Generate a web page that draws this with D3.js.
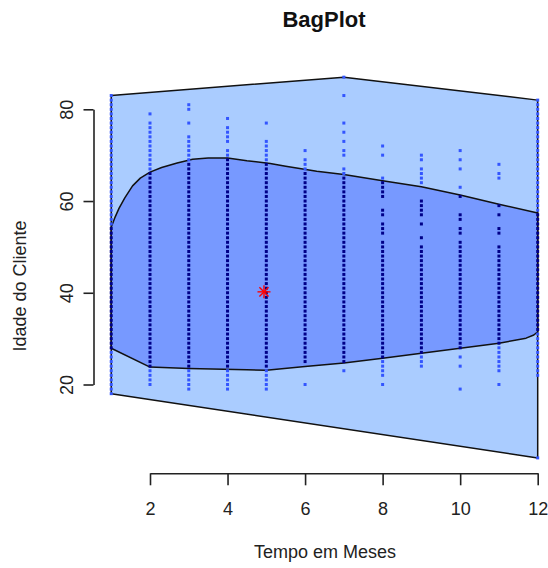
<!DOCTYPE html>
<html>
<head>
<meta charset="utf-8">
<script src="https://cdn.jsdelivr.net/npm/d3@7/dist/d3.min.js"></script>
<style>
  html, body { margin: 0; padding: 0; background: #fff; }
  svg { display: block; font-family: "Liberation Sans", Arial, Helvetica, sans-serif; }
</style>
</head>
<body>
<svg id="chart" width="548" height="568"></svg>
<script>
// Idade dos clientes observada em cada mês
const meses = [1, 2, 3, 4, 5, 6, 7, 8, 9, 10, 11, 12];
const idadesMes1 = [18,19,20,21,22,23,24,25,26,27,28,29,30,31,32,33,34,35,36,37,38,39,40,41,42,43,44,45,46,47,48,49,50,51,52,53,54,55,56,57,58,59,60,61,62,63,64,65,66,67,68,69,70,71,72,73,74,75,76,77,78,79,80,81,82,83];
const idadesMes2 = [20,21,22,23,24,25,26,27,28,29,30,31,32,33,34,35,36,37,38,39,40,41,42,43,44,45,46,47,48,49,50,51,52,53,54,55,56,57,58,59,60,61,62,63,64,65,66,67,68,69,70,71,72,73,74,75,76,77,79];
const idadesMes3 = [19,20,21,22,23,24,25,26,27,28,29,30,31,32,33,34,35,36,37,38,39,40,41,42,43,44,45,46,47,48,49,50,51,52,53,54,55,56,57,58,59,60,61,62,63,64,65,66,67,68,69,70,71,72,73,74,77,80,81];
const idadesMes4 = [19,20,21,22,23,24,25,26,27,28,29,30,31,32,33,34,35,36,37,38,39,40,41,42,43,44,45,46,47,48,49,50,51,52,53,54,55,56,57,58,59,60,61,62,63,64,65,66,67,68,69,70,71,73,74,75,76,78];
const idadesMes5 = [19,20,21,22,23,24,25,26,27,28,29,30,31,32,33,34,35,36,37,38,39,40,41,42,43,44,45,46,47,48,49,50,51,52,53,54,55,56,57,58,59,60,61,62,63,64,65,66,67,68,69,70,71,72,73,77];
const idadesMes6 = [20,25,26,27,28,29,30,31,32,33,34,35,36,37,38,39,40,41,42,43,44,45,46,47,48,49,50,51,52,53,54,55,56,57,58,59,60,61,62,63,64,65,66,67,68,69,71];
const idadesMes7 = [23,25,26,27,28,29,30,31,32,33,34,35,36,37,38,39,40,41,42,43,44,45,46,47,48,49,50,51,52,53,54,55,56,57,58,59,60,61,62,63,64,65,66,67,70,71,73,75,77,83,87];
const idadesMes8 = [20,22,23,24,25,26,27,28,29,30,31,32,33,34,35,36,37,38,39,40,41,42,43,44,45,46,47,48,49,50,51,53,54,55,57,58,61,62,63,64,65,70,72];
const idadesMes9 = [24,25,26,27,28,29,30,31,32,33,34,35,36,37,38,39,40,41,42,43,44,45,46,47,48,49,50,52,55,57,58,59,60,64,65,66,67,69,70];
const idadesMes10 = [19,24,26,28,29,30,31,32,33,34,35,36,37,38,39,40,41,42,43,44,45,46,47,48,49,50,51,53,54,56,57,61,63,67,69,71];
const idadesMes11 = [20,23,24,25,26,27,28,29,30,31,32,33,34,35,36,37,38,39,40,41,42,43,44,45,46,47,48,49,50,53,54,57,59,65,66,68];
const idadesMes12 = [4,22,23,24,25,26,27,28,29,30,31,32,33,34,35,36,37,38,39,40,41,42,43,44,45,46,47,48,49,50,51,52,53,54,55,56,57,58,59,60,61,62,63,64,65,66,67,68,69,70,71,72,73,74,75,76,77,78,79,80,81,82];

// Contorno da "bag" (50% central), percorrido no sentido horário
const bagMes    = [1.0, 1.1, 1.2, 1.35, 1.55, 1.75, 2.0, 2.3, 2.7, 3.1, 3.5, 4.0, 4.5, 5.1, 5.5, 6.3, 7.0, 8.0, 9.0, 10.0, 11.0, 12.0, 12.0, 11.9, 11.7, 11.0, 10.0, 9.0, 8.0, 7.0, 6.0, 5.0, 4.5, 3.0, 2.0, 1.0];
const bagIdade  = [54.3, 56.5, 58.4, 60.7, 63.3, 65.0, 66.3, 67.3, 68.3, 69.1, 69.4, 69.4, 68.8, 68.2, 67.6, 66.5, 65.8, 64.4, 63.1, 61.3, 59.3, 57.4, 31.5, 30.8, 30.1, 29.0, 27.9, 26.8, 25.7, 24.7, 23.9, 23.1, 23.2, 23.5, 23.8, 27.9];

// Mediana de Tukey
const medianaMes = 4.94;
const medianaIdade = 40.2;

const ticksX = [2, 4, 6, 8, 10, 12];
const ticksY = [20, 40, 60, 80];

const titulo = "BagPlot";
const rotuloX = "Tempo em Meses";
const rotuloY = "Idade do Cliente";

const corLoop = "#aaccff";
const corBag = "#7799ff";
const corPontosLoop = "#3355ff";
const corPontosBag = "#000088";

const svg = d3.select("#chart");

const x = d3.scaleLinear().domain([2, 12]).range([150, 537.7]);
const y = d3.scaleLinear().domain([20, 80]).range([384.5, 109.3]);

const idadesPorMes = [idadesMes1, idadesMes2, idadesMes3, idadesMes4, idadesMes5, idadesMes6,
                      idadesMes7, idadesMes8, idadesMes9, idadesMes10, idadesMes11, idadesMes12];
const pontos = meses.flatMap((m, i) => idadesPorMes[i].map(a => [m, a]));
const pontosPx = pontos.map(p => [x(p[0]), y(p[1])]);

// Loop: envoltória convexa de todos os pontos
const loop = d3.polygonHull(pontosPx);
svg.append("path")
  .attr("d", "M" + loop.map(p => p.join(",")).join("L") + "Z")
  .attr("fill", corLoop)
  .attr("stroke", "#111")
  .attr("stroke-width", 1.5)
  .attr("stroke-linejoin", "round");

// Bag
const bagPx = bagMes.map((m, i) => [x(m), y(bagIdade[i])]);
svg.append("path")
  .attr("d", "M" + bagPx.map(p => p.join(",")).join("L") + "Z")
  .attr("fill", corBag)
  .attr("stroke", "#111")
  .attr("stroke-width", 1.5)
  .attr("stroke-linejoin", "round");

function dentroDaBag(p) {
  return d3.polygonContains(bagPx, p) ||
         d3.polygonContains(bagPx, [p[0] + 0.5, p[1]]) ||
         d3.polygonContains(bagPx, [p[0] - 0.5, p[1]]);
}

// Pontos
const lado = 3;
svg.append("g").selectAll("rect")
  .data(pontosPx)
  .join("rect")
  .attr("x", d => d[0] - lado / 2)
  .attr("y", d => d[1] - lado / 2)
  .attr("width", lado)
  .attr("height", lado)
  .attr("fill", d => dentroDaBag(d) ? corPontosBag : corPontosLoop);

// Mediana (asterisco)
const mx = x(medianaMes), my = y(medianaIdade);
const ast = svg.append("g").attr("stroke", "red").attr("stroke-width", 1.4);
const r1 = 6.5, r2 = 4.6;
ast.append("line").attr("x1", mx - r1).attr("x2", mx + r1).attr("y1", my).attr("y2", my);
ast.append("line").attr("x1", mx).attr("x2", mx).attr("y1", my - r1).attr("y2", my + r1);
ast.append("line").attr("x1", mx - r2).attr("x2", mx + r2).attr("y1", my - r2).attr("y2", my + r2);
ast.append("line").attr("x1", mx - r2).attr("x2", mx + r2).attr("y1", my + r2).attr("y2", my - r2);

// Eixo X
const eixoX = svg.append("g")
  .attr("transform", "translate(0,473.3)")
  .call(d3.axisBottom(x).tickValues(ticksX).tickSize(12).tickSizeOuter(0).tickFormat(d3.format("d")));
eixoX.select(".domain").attr("stroke", "#222").attr("stroke-width", 1.6);
eixoX.selectAll(".tick line").attr("stroke", "#222").attr("stroke-width", 1.6);
eixoX.selectAll(".tick text")
  .attr("y", 41.7).attr("dy", 0)
  .attr("font-size", 18).attr("font-family", "'Liberation Sans', Arial, sans-serif")
  .attr("fill", "#222");

// Eixo Y
const eixoY = svg.append("g")
  .attr("transform", "translate(93.5,0)")
  .call(d3.axisLeft(y).tickValues(ticksY).tickSize(10).tickSizeOuter(0).tickFormat(d3.format("d")));
eixoY.select(".domain").attr("stroke", "#222").attr("stroke-width", 1.6);
eixoY.selectAll(".tick line").attr("stroke", "#222").attr("stroke-width", 1.6);
eixoY.selectAll(".tick text")
  .attr("x", 0).attr("dy", 0)
  .attr("text-anchor", "middle")
  .attr("transform", "translate(-21,0) rotate(-90)")
  .attr("font-size", 18).attr("font-family", "'Liberation Sans', Arial, sans-serif")
  .attr("fill", "#222");

// Títulos
svg.append("text")
  .attr("x", 324).attr("y", 27)
  .attr("text-anchor", "middle")
  .attr("font-size", 22).attr("font-weight", "bold")
  .attr("fill", "#111")
  .text(titulo);

svg.append("text")
  .attr("x", 325).attr("y", 558)
  .attr("text-anchor", "middle")
  .attr("font-size", 18)
  .attr("fill", "#222")
  .text(rotuloX);

svg.append("text")
  .attr("transform", "translate(26,286) rotate(-90)")
  .attr("text-anchor", "middle")
  .attr("font-size", 18)
  .attr("fill", "#222")
  .text(rotuloY);
</script>
</body>
</html>
